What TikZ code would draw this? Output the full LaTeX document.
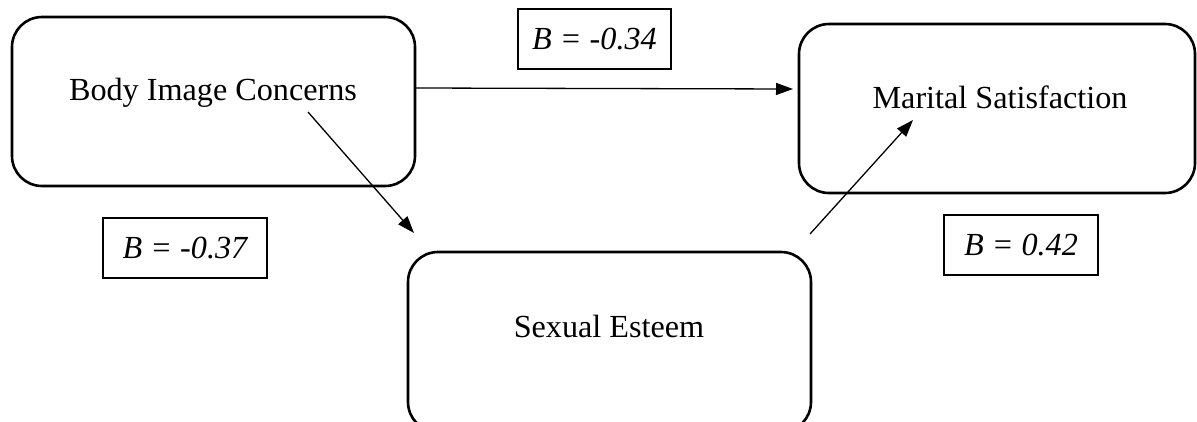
\documentclass[tikz,border=0pt]{standalone}
\usepackage{fontspec}
\setmainfont{Liberation Serif}
\usetikzlibrary{arrows.meta}
\begin{document}
\begin{tikzpicture}[x=1pt,y=-1pt,
  bigbox/.style={draw, line width=2.6pt, rounded corners=30pt, inner sep=0pt},
  coef/.style={draw, line width=2pt, inner sep=0pt, minimum height=60pt, font=\fontsize{32.2}{38}\selectfont\itshape},
  lbl/.style={font=\fontsize{32.2}{38}\selectfont, inner sep=0pt, anchor=base},
  arr/.style={line width=1.3pt, -{Triangle[length=17pt,width=12pt]}}]
\useasboundingbox (0,0) rectangle (1197,421);
\clip (0,0) rectangle (1197,421);
% main boxes
\node[bigbox, minimum width=403pt, minimum height=169pt] (bic) at (213.5,101.5) {};
\node[bigbox, minimum width=396pt, minimum height=169pt] (ms) at (997,108.5) {};
\node[bigbox, minimum width=403pt, minimum height=180pt] (se) at (609.5,342) {};
% box texts
\node[lbl] (bictxt) at (213,100) {Body Image Concerns};
\node[lbl] (mstxt) at (1000,108) {Marital Satisfaction};
\node[lbl] (setxt) at (609,337) {Sexual Esteem};
% coefficients
\node[coef, minimum width=153pt] (c1) at (594.5,39) {B = -0.34};
\node[coef, minimum width=164pt] (c2) at (185,248) {B = -0.37};
\node[coef, minimum width=154pt] (c3) at (1021,245) {B = 0.42};
% connectors
\coordinate (h1) at (416,88);
\coordinate (h2) at (793,89);
\coordinate (d1s) at (308,112);
\coordinate (d1e) at (414,233);
\coordinate (d2s) at (810,234);
\coordinate (d2e) at (913,120);
\draw[arr] (h1) -- (h2);
\draw[arr] (d1s) -- (d1e);
\draw[arr] (d2s) -- (d2e);
\end{tikzpicture}
\end{document}
